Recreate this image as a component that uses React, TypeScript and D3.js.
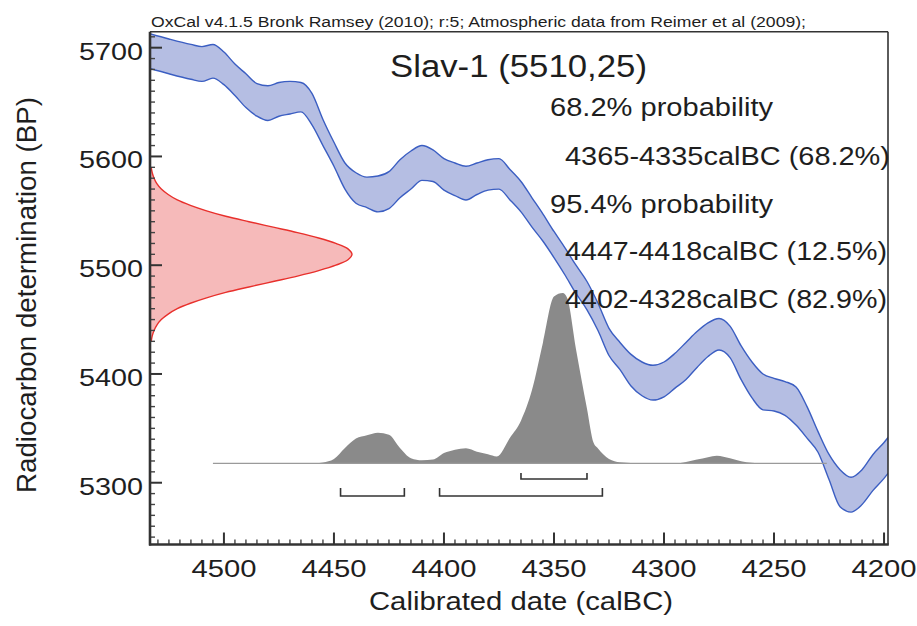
import React from 'react';
import * as d3 from 'd3';

const W = 917, H = 626;

const headerText = "OxCal v4.1.5 Bronk Ramsey (2010); r:5; Atmospheric data from Reimer et al (2009);";
const titleText = "Slav-1 (5510,25)";
const probLabels = ["68.2% probability", "95.4% probability"];
const rangeLabels68 = ["4365-4335calBC (68.2%)"];
const rangeLabels95 = ["4447-4418calBC (12.5%)", "4402-4328calBC (82.9%)"];
const xTicks = [4500, 4450, 4400, 4350, 4300, 4250, 4200];
const yTicks = [5300, 5400, 5500, 5600, 5700];
const xLabel = "Calibrated date (calBC)";
const yLabel = "Radiocarbon determination (BP)";

// calibration curve (IntCal09 band, upper and lower edge in BP)
const curveYears = [4534,4525,4515,4510,4505,4500,4495,4490,4485,4480,4475,4470,4465,4460,4455,4450,4445,4440,4435,4430,4425,4420,4415,4410,4405,4400,4395,4390,4385,4380,4375,4370,4365,4360,4355,4350,4345,4340,4335,4330,4325,4320,4315,4310,4305,4300,4295,4290,4285,4280,4275,4270,4265,4260,4255,4250,4245,4240,4235,4230,4225,4220,4215,4210,4205,4200,4198];
const curveUpper = [5713,5708,5703,5701,5703,5696,5685,5676,5667,5665,5668,5669,5668,5658,5634,5613,5594,5585,5581,5582,5586,5597,5605,5610,5606,5598,5594,5591,5594,5597,5598,5588,5577,5562,5547,5531,5516,5500,5485,5465,5442,5429,5418,5411,5408,5411,5419,5429,5439,5447,5451,5444,5426,5411,5400,5396,5393,5388,5370,5347,5326,5312,5305,5312,5326,5337,5342];
const curveLower = [5681,5676,5671,5669,5672,5666,5656,5645,5637,5633,5637,5639,5641,5629,5610,5591,5570,5557,5553,5549,5552,5562,5570,5578,5577,5569,5564,5560,5565,5569,5570,5560,5549,5535,5522,5507,5491,5474,5459,5440,5417,5404,5389,5380,5376,5379,5387,5395,5406,5416,5422,5415,5395,5378,5367,5366,5362,5353,5341,5328,5303,5278,5273,5280,5293,5304,5309];

// calibrated probability distribution (relative)
const distYears = [4505,4460,4455,4450,4445,4440,4435,4430,4425,4420,4415,4410,4405,4400,4395,4390,4385,4380,4376,4370,4365,4360,4355,4350,4346,4344,4340,4335,4332,4330,4325,4320,4310,4295,4290,4285,4280,4276,4270,4265,4260,4255,4226];
const distProb = [0,0,0.005,0.025,0.09,0.145,0.165,0.18,0.167,0.09,0.03,0.018,0.022,0.06,0.08,0.088,0.068,0.053,0.04,0.15,0.25,0.43,0.71,0.98,1.0,0.97,0.67,0.32,0.12,0.087,0.025,0.006,0,0,0.008,0.022,0.036,0.045,0.03,0.012,0.003,0,0];

// radiocarbon measurement distribution (relative)
const c14BP = [5590,5585,5580,5575,5570,5565,5560,5555,5550,5545,5540,5535,5530,5525,5520,5515,5510,5505,5500,5495,5490,5485,5480,5475,5470,5465,5460,5455,5450,5445,5440,5435,5430];
const c14Prob = [0.006,0.011,0.02,0.034,0.056,0.09,0.135,0.2,0.28,0.375,0.49,0.61,0.73,0.835,0.92,0.98,1.0,0.98,0.92,0.835,0.73,0.61,0.49,0.375,0.28,0.2,0.135,0.09,0.056,0.034,0.02,0.011,0.006];

const range68 = [[4365, 4335]];
const range95 = [[4447, 4418], [4402, 4328]];

const FONT = "'Liberation Sans', Arial, Helvetica, sans-serif";
const TXT = "#1e1e1e";

function T({ x, y, text, size, len, anchor = "start", rotate = 0 }: any) {
  return (
    <text
      x={rotate ? 0 : x}
      y={rotate ? 0 : y}
      transform={rotate ? `translate(${x},${y}) rotate(${rotate})` : undefined}
      fontFamily={FONT}
      fontSize={size}
      textAnchor={anchor}
      textLength={len}
      lengthAdjust="spacingAndGlyphs"
      fill={TXT}
    >
      {text}
    </text>
  );
}

export default function App() {
  const L = 150, R = 888, T0 = 31.7, B = 544.5;
  const x = d3.scaleLinear().domain([4533.6, 4198.2]).range([L, R]);
  const y = d3.scaleLinear().domain([5243.2, 5714.7]).range([B, T0]);
  const pY = d3.scaleLinear().domain([0, 1]).range([463.3, 293]);
  const pX = d3.scaleLinear().domain([0, 1]).range([L, 352]);

  const band = curveYears.map((yr, i) => ({ yr, u: curveUpper[i], l: curveLower[i] }));
  const bandCurve = d3.curveMonotoneX;
  const bandArea = d3.area<any>().x(d => x(d.yr)).y0(d => y(d.l)).y1(d => y(d.u)).curve(bandCurve)(band) || "";
  const bandUp = d3.line<any>().x(d => x(d.yr)).y(d => y(d.u)).curve(bandCurve)(band) || "";
  const bandLo = d3.line<any>().x(d => x(d.yr)).y(d => y(d.l)).curve(bandCurve)(band) || "";

  const dist = distYears.map((yr, i) => ({ yr, p: distProb[i] }));
  const distArea = d3.area<any>().x(d => x(d.yr)).y0(pY(0)).y1(d => pY(d.p)).curve(d3.curveMonotoneX)(dist) || "";

  const c14 = c14BP.map((bp, i) => ({ bp, p: c14Prob[i] }));
  const c14Area = d3.area<any>().y(d => y(d.bp)).x0(L).x1(d => pX(d.p)).curve(d3.curveCatmullRom)(c14) || "";
  const c14Line = d3.line<any>().y(d => y(d.bp)).x(d => pX(d.p)).curve(d3.curveCatmullRom)(c14) || "";

  const xMinor = d3.range(4200, 4535, 5).filter(v => v % 50 !== 0);
  const yMinor = d3.range(5250, 5715, 10).filter(v => v % 100 !== 0);

  const bracket = (r: number[], yb: number, h: number, k: string) => (
    <path key={k} d={`M${x(r[0])},${yb - h}V${yb}H${x(r[1])}V${yb - h}`} fill="none" stroke="#333" strokeWidth={1.6} />
  );

  return (
    <svg width={W} height={H} style={{ position: "absolute", left: 0, top: 0, background: "#fff" }}>
      <defs>
        <clipPath id="plot"><rect x={L} y={T0} width={R - L} height={B - T0} /></clipPath>
      </defs>
      <g clipPath="url(#plot)">
        <path d={bandArea} fill="#b5bee3" />
        <path d={bandUp} fill="none" stroke="#3b5ec2" strokeWidth={1.4} />
        <path d={bandLo} fill="none" stroke="#3b5ec2" strokeWidth={1.4} />
        <path d={c14Area} fill="#f6baba" />
        <path d={c14Line} fill="none" stroke="#e8302c" strokeWidth={1.4} />
        <path d={distArea} fill="#8a8a8a" />
        <line x1={x(distYears[0])} x2={x(distYears[distYears.length - 1])} y1={pY(0)} y2={pY(0)} stroke="#9a9a9a" strokeWidth={1.3} />
      </g>
      {range68.map((r, i) => bracket(r, 479, 6, "a" + i))}
      {range95.map((r, i) => bracket(r, 496, 8, "b" + i))}

      {/* ticks */}
      {xTicks.map(v => <line key={"xt" + v} x1={x(v)} x2={x(v)} y1={B} y2={B - 12} stroke="#333" strokeWidth={2} />)}
      {xMinor.map(v => <line key={"xm" + v} x1={x(v)} x2={x(v)} y1={B} y2={B - 5} stroke="#444" strokeWidth={1.4} />)}
      {yTicks.map(v => <line key={"yt" + v} x1={L} x2={L + 12} y1={y(v)} y2={y(v)} stroke="#333" strokeWidth={2} />)}
      {yMinor.map(v => <line key={"ym" + v} x1={L} x2={L + 5} y1={y(v)} y2={y(v)} stroke="#444" strokeWidth={1.4} />)}

      {/* frame */}
      <line x1={L} x2={R} y1={T0} y2={T0} stroke="#333" strokeWidth={1.6} />
      <line x1={R} x2={R} y1={T0} y2={B} stroke="#333" strokeWidth={1.6} />
      <line x1={L} x2={L} y1={T0} y2={B + 1} stroke="#333" strokeWidth={2.6} />
      <line x1={L - 1} x2={R + 0.8} y1={B} y2={B} stroke="#333" strokeWidth={2.6} />

      {/* tick labels */}
      {xTicks.map(v => <T key={"xl" + v} x={x(v)} y={577} text={String(v)} size={24} len={65} anchor="middle" />)}
      {yTicks.map(v => <T key={"yl" + v} x={143} y={y(v) + 12} text={String(v)} size={24} len={64} anchor="end" />)}

      {/* axis titles */}
      <T x={521} y={610} text={xLabel} size={25} len={304} anchor="middle" />
      <T x={36} y={295} text={yLabel} size={27} len={396} anchor="middle" rotate={-90} />

      {/* header and annotations */}
      <T x={151} y={27} text={headerText} size={14} len={655} />
      <T x={390} y={77} text={titleText} size={31} len={257} />
      <T x={550} y={116} text={probLabels[0]} size={26} len={223} />
      <T x={565} y={165} text={rangeLabels68[0]} size={26} len={325} />
      <T x={550} y={213} text={probLabels[1]} size={26} len={223} />
      <T x={565} y={260} text={rangeLabels95[0]} size={26} len={322} />
      <T x={565} y={308} text={rangeLabels95[1]} size={26} len={322} />
    </svg>
  );
}
